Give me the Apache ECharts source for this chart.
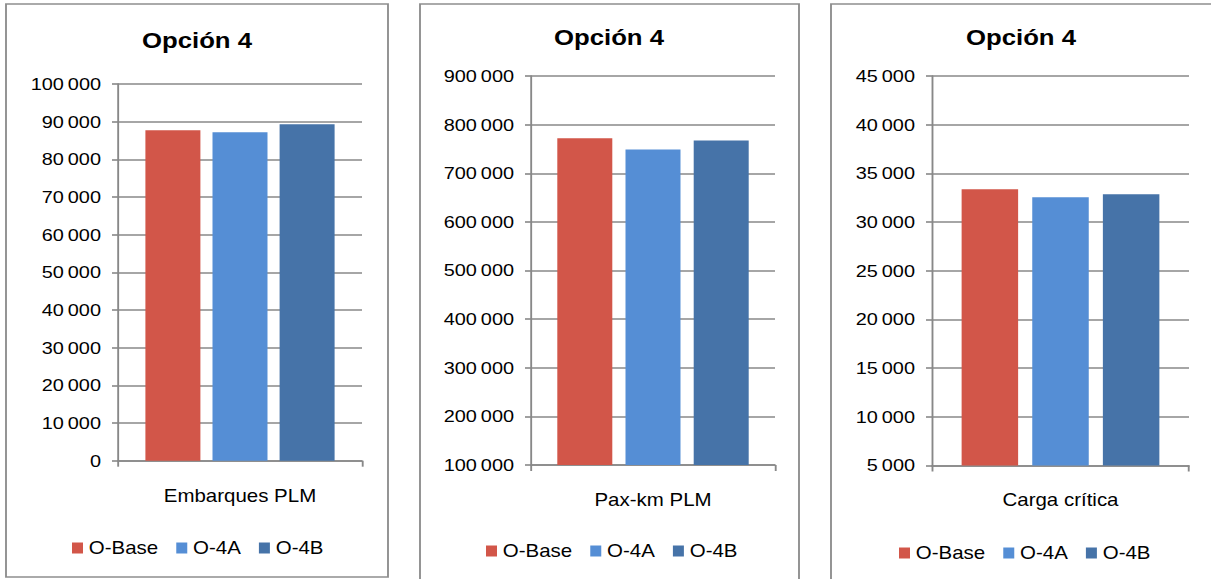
<!DOCTYPE html>
<html>
<head>
<meta charset="utf-8">
<script src="https://cdn.jsdelivr.net/npm/echarts@6/dist/echarts.min.js"></script>
<style>
  html, body { margin: 0; padding: 0; background: #fff; overflow: hidden; width: 1211px; height: 579px; }
  #chart { position: absolute; left: 0; top: 0; height: 579px; transform-origin: 0 0; }
</style>
</head>
<body>
<div id="chart"></div>
<script>
// ---- data ----
const categories = ['Embarques PLM', 'Pax-km PLM', 'Carga crítica'];
const seriesNames = ['O-Base', 'O-4A', 'O-4B'];
const seriesColors = ['#D25649', '#558ED5', '#4673A8'];
const embarquesPLM = [87700, 87200, 89300];
const paxKmPLM = [772000, 749000, 767500];
const cargaCritica = [33370, 32550, 32860];
const axisMin = [0, 100000, 5000];
const axisMax = [100000, 900000, 45000];
const axisStep = [10000, 100000, 5000];
const panelTitle = 'Opción 4';

const panelValues = [embarquesPLM, paxKmPLM, cargaCritica];

// The whole drawing uses a slightly wide type face: lay it out narrower and stretch horizontally.
const S = 1.17;
const sx = v => v / S;
const W = 1211 / S;

const el = document.getElementById('chart');
el.style.width = W + 'px';
el.style.transform = 'scaleX(' + S + ')';

const FONT = '"Liberation Sans", Arial, Helvetica, sans-serif';
const GREY = '#888888';

// panel geometry in page pixels
const panels = [
  { box: [6, 4, 388, 577],    plot: [118, 84, 362, 460.7], title: [197, 40],  legend: [72, 548],  bar: 55,   gap: '22%' },
  { box: [420, 4, 799, 640],  plot: [531, 76, 775, 465],   title: [609, 37],  legend: [486, 551], bar: 55,   gap: '24%' },
  { box: [831, 4, 1260, 640], plot: [932, 76, 1189, 465.5], title: [1021, 37], legend: [899, 553], bar: 56.5, gap: '25%' }
];

// thousands grouped with a thin space: 100 000
const thousands = v => String(v).replace(/\B(?=(\d{3})+(?!\d))/g, '\u2009');

const grid = [], xAxis = [], yAxis = [], series = [], legend = [], graphic = [];

panels.forEach((p, i) => {
  const [l, t, r, b] = p.plot;
  grid.push({ left: sx(l), top: t, width: sx(r - l), height: b - t, containLabel: false });

  xAxis.push({
    type: 'category', gridIndex: i, data: [categories[i]],
    axisLine: { show: true, lineStyle: { color: GREY, width: 1.6 } },
    axisTick: { show: true, length: 6, lineStyle: { color: GREY, width: 1.6 } },
    axisLabel: { color: '#000', fontSize: 17.5, fontFamily: FONT, margin: 26 }
  });

  yAxis.push({
    type: 'value', gridIndex: i, min: axisMin[i], max: axisMax[i], interval: axisStep[i],
    axisLine: { show: true, lineStyle: { color: GREY, width: 1.6 } },
    axisTick: { show: true, length: sx(6), lineStyle: { color: GREY, width: 1.6 } },
    splitLine: { show: true, lineStyle: { color: GREY, width: 1.6 } },
    axisLabel: { color: '#000', fontSize: 17, fontFamily: FONT, margin: sx(17), formatter: thousands }
  });

  seriesNames.forEach((name, j) => {
    series.push({
      type: 'bar', name: name, xAxisIndex: i, yAxisIndex: i,
      data: [panelValues[i][j]],
      barWidth: sx(p.bar), barGap: p.gap,
      itemStyle: { color: seriesColors[j] },
      animation: false
    });
  });

  legend.push({
    left: sx(p.legend[0]), top: p.legend[1] - 9, padding: 0,
    icon: 'rect', itemWidth: sx(11), itemHeight: 11, itemGap: sx(18),
    data: seriesNames,
    textStyle: { color: '#000', fontSize: 17.5, fontFamily: FONT }
  });

  const [bx0, by0, bx1, by1] = p.box;
  graphic.push({
    type: 'rect', silent: true, z: -1,
    shape: { x: sx(bx0), y: by0, width: sx(bx1 - bx0), height: by1 - by0 },
    style: { fill: 'none', stroke: '#8e8e8e', lineWidth: 1.6 }
  });
  graphic.push({
    type: 'text', silent: true,
    x: sx(p.title[0]), y: p.title[1],
    style: {
      text: panelTitle, fill: '#000', fontSize: 22, fontWeight: 'bold', fontFamily: FONT,
      align: 'center', verticalAlign: 'middle'
    }
  });
});

const chart = echarts.init(el, null, { renderer: 'svg', width: W, height: 579 });
chart.setOption({
  animation: false,
  backgroundColor: '#fff',
  textStyle: { fontFamily: FONT },
  grid, xAxis, yAxis, series, legend, graphic
});
</script>
</body>
</html>
